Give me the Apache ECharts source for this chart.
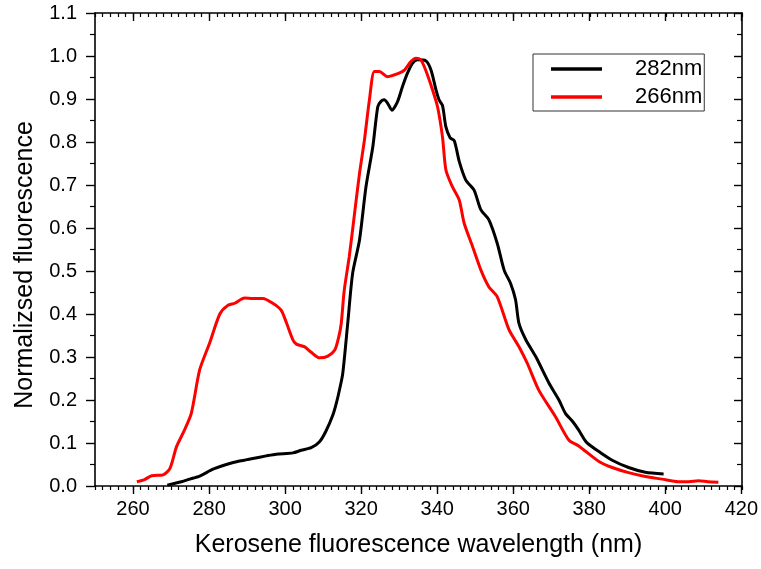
<!DOCTYPE html>
<html>
<head>
<meta charset="utf-8">
<script src="https://cdn.jsdelivr.net/npm/echarts@6/dist/echarts.min.js"></script>
<style>
html,body{margin:0;padding:0;background:#fff;}
#chart{width:761px;height:569px;}
</style>
</head>
<body>
<div id="chart"></div>
<script>
// Series 282nm (black)
const wl282 = [269.0,272.7,274.9,277.5,281.0,284.5,288.0,291.5,295.0,297.6,302.0,304.2,306.8,309.0,310.7,312.5,313.4,314.2,315.1,316.4,317.7,319.5,321.2,323.0,324.3,325.2,326.0,326.9,328.0,329.5,330.8,332.1,333.4,334.7,336.9,338.3,339.6,340.4,341.3,342.2,343.3,344.4,345.7,347.4,349.6,351.4,353.5,355.7,357.5,359.2,360.5,361.4,363.2,365.8,369.3,371.9,373.6,375.5,377.1,379.0,380.5,382.4,385.9,390.2,394.6,399.4];
const fl282 = [0.002,0.010,0.016,0.023,0.039,0.050,0.058,0.064,0.070,0.074,0.077,0.083,0.089,0.103,0.128,0.165,0.192,0.222,0.262,0.378,0.495,0.572,0.696,0.789,0.882,0.895,0.898,0.890,0.874,0.894,0.929,0.960,0.983,0.991,0.989,0.967,0.921,0.898,0.885,0.835,0.810,0.803,0.755,0.712,0.688,0.642,0.619,0.564,0.502,0.471,0.433,0.378,0.340,0.301,0.239,0.200,0.169,0.150,0.130,0.103,0.092,0.080,0.060,0.043,0.032,0.028];
// Series 266nm (red)
const wl266 = [261.0,263.0,264.9,267.9,269.7,271.4,273.5,275.3,277.5,280.1,282.8,284.9,286.7,289.3,291.5,294.1,296.7,298.9,300.2,302.0,302.9,305.0,306.8,309.0,311.2,313.0,314.0,314.7,315.5,316.8,318.2,319.5,320.8,322.1,323.4,324.7,326.9,329.9,331.3,333.0,334.3,335.6,336.9,338.7,340.0,341.3,342.2,343.9,345.7,347.0,349.2,351.4,353.5,355.7,358.8,361.4,363.6,366.6,371.0,374.5,377.1,382.4,385.9,390.2,394.6,399.0,403.3,406.0,408.6,411.0,413.8];
const fl266 = [0.010,0.015,0.024,0.026,0.041,0.091,0.130,0.169,0.270,0.332,0.400,0.420,0.425,0.437,0.436,0.436,0.425,0.409,0.382,0.340,0.330,0.324,0.311,0.298,0.302,0.316,0.345,0.378,0.456,0.533,0.634,0.727,0.805,0.898,0.964,0.964,0.952,0.960,0.967,0.987,0.995,0.991,0.967,0.921,0.882,0.812,0.735,0.696,0.665,0.611,0.557,0.502,0.463,0.440,0.363,0.324,0.285,0.223,0.161,0.107,0.093,0.057,0.043,0.031,0.022,0.016,0.010,0.010,0.012,0.010,0.009];
const seriesNames = ['282nm','266nm'];
const xLabelTitle = 'Kerosene fluorescence wavelength (nm)';
const yLabelTitle = 'Normalizsed fluorescence';

const FONT = "'Liberation Sans', Arial, sans-serif";
const pairs = (xs, ys) => xs.map((x, i) => [x, ys[i]]);

const chart = echarts.init(document.getElementById('chart'), null, {renderer: 'canvas'});
const axisLine = {show: true, onZero: false, lineStyle: {color: '#000', width: 1.6}};
const gridBase = {top: 13, bottom: 83, right: 19, containLabel: false};
const option = {
  backgroundColor: '#fff',
  animation: false,
  grid: [
    Object.assign({left: 95}, gridBase),
    Object.assign({left: 95 + 10 * (647 / 170)}, gridBase)
  ],
  legend: {
    show: true,
    orient: 'vertical',
    left: 533, top: 54,
    padding: [3, 2, 2, 18],
    borderColor: '#333', borderWidth: 1,
    icon: 'rect',
    itemWidth: 51, itemHeight: 3.5, itemGap: 4,
    textStyle: {fontFamily: FONT, fontSize: 22, color: '#000', lineHeight: 24, padding: [0, 0, 0, 28]},
    data: seriesNames
  },
  xAxis: [
    {gridIndex: 0, type: 'value', position: 'bottom', min: 250, max: 420, interval: 2,
     axisLine: axisLine, axisTick: {show: true, length: 4, lineStyle: {color: '#000', width: 1.2}},
     axisLabel: {show: true, formatter: () => '', fontSize: 1},
     splitLine: {show: false},
     name: xLabelTitle, nameLocation: 'middle', nameGap: 47,
     nameTextStyle: {fontFamily: FONT, fontSize: 25, color: '#000'}},
    {gridIndex: 0, type: 'value', position: 'top', min: 250, max: 420, interval: 2,
     axisLine: axisLine, axisTick: {show: true, inside: true, length: 4, lineStyle: {color: '#000', width: 1.2}},
     axisLabel: {show: true, formatter: () => '', fontSize: 1},
     splitLine: {show: false}},
    {gridIndex: 1, type: 'value', position: 'bottom', min: 260, max: 420, interval: 20,
     axisLine: {show: false, onZero: false}, axisTick: {show: true, length: 8, lineStyle: {color: '#000', width: 1.4}},
     axisLabel: {show: true, margin: 13, fontFamily: FONT, fontSize: 20, color: '#000'},
     splitLine: {show: false}},
    {gridIndex: 1, type: 'value', position: 'top', min: 260, max: 420, interval: 20,
     axisLine: {show: false, onZero: false}, axisTick: {show: true, inside: true, length: 8, lineStyle: {color: '#000', width: 1.4}},
     axisLabel: {show: false}, splitLine: {show: false}}
  ],
  yAxis: [
    {gridIndex: 0, type: 'value', position: 'left', min: 0, max: 1.1, interval: 0.1,
     axisLine: axisLine,
     axisTick: {show: true, length: 9, lineStyle: {color: '#000', width: 1.4}},
     minorTick: {show: true, splitNumber: 2, length: 5, lineStyle: {color: '#000', width: 1.2}},
     axisLabel: {show: true, margin: 18, fontFamily: FONT, fontSize: 20, color: '#000',
                 formatter: v => v.toFixed(1)},
     splitLine: {show: false}, minorSplitLine: {show: false},
     name: yLabelTitle, nameLocation: 'middle', nameGap: 57, nameRotate: 90,
     nameTextStyle: {fontFamily: FONT, fontSize: 25, color: '#000', padding: [0, 31, 0, 0]}},
    {gridIndex: 0, type: 'value', position: 'right', min: 0, max: 1.1, interval: 0.1,
     axisLine: axisLine,
     axisTick: {show: true, inside: true, length: 8, lineStyle: {color: '#000', width: 1.4}},
     minorTick: {show: true, splitNumber: 2, length: 5, lineStyle: {color: '#000', width: 1.2}},
     axisLabel: {show: false}, splitLine: {show: false}, minorSplitLine: {show: false}},
    {gridIndex: 1, type: 'value', min: 0, max: 1.1, show: false}
  ],
  series: [
    {name: seriesNames[0], type: 'line', xAxisIndex: 0, yAxisIndex: 0,
     data: pairs(wl282, fl282), symbol: 'none', smooth: 0.25,
     lineStyle: {color: '#000', width: 3}, itemStyle: {color: '#000'}, z: 3},
    {name: seriesNames[1], type: 'line', xAxisIndex: 0, yAxisIndex: 0,
     data: pairs(wl266, fl266), symbol: 'none', smooth: 0.25,
     lineStyle: {color: '#ff0000', width: 3}, itemStyle: {color: '#ff0000'}, z: 4}
  ]
};
chart.setOption(option);
</script>
</body>
</html>
